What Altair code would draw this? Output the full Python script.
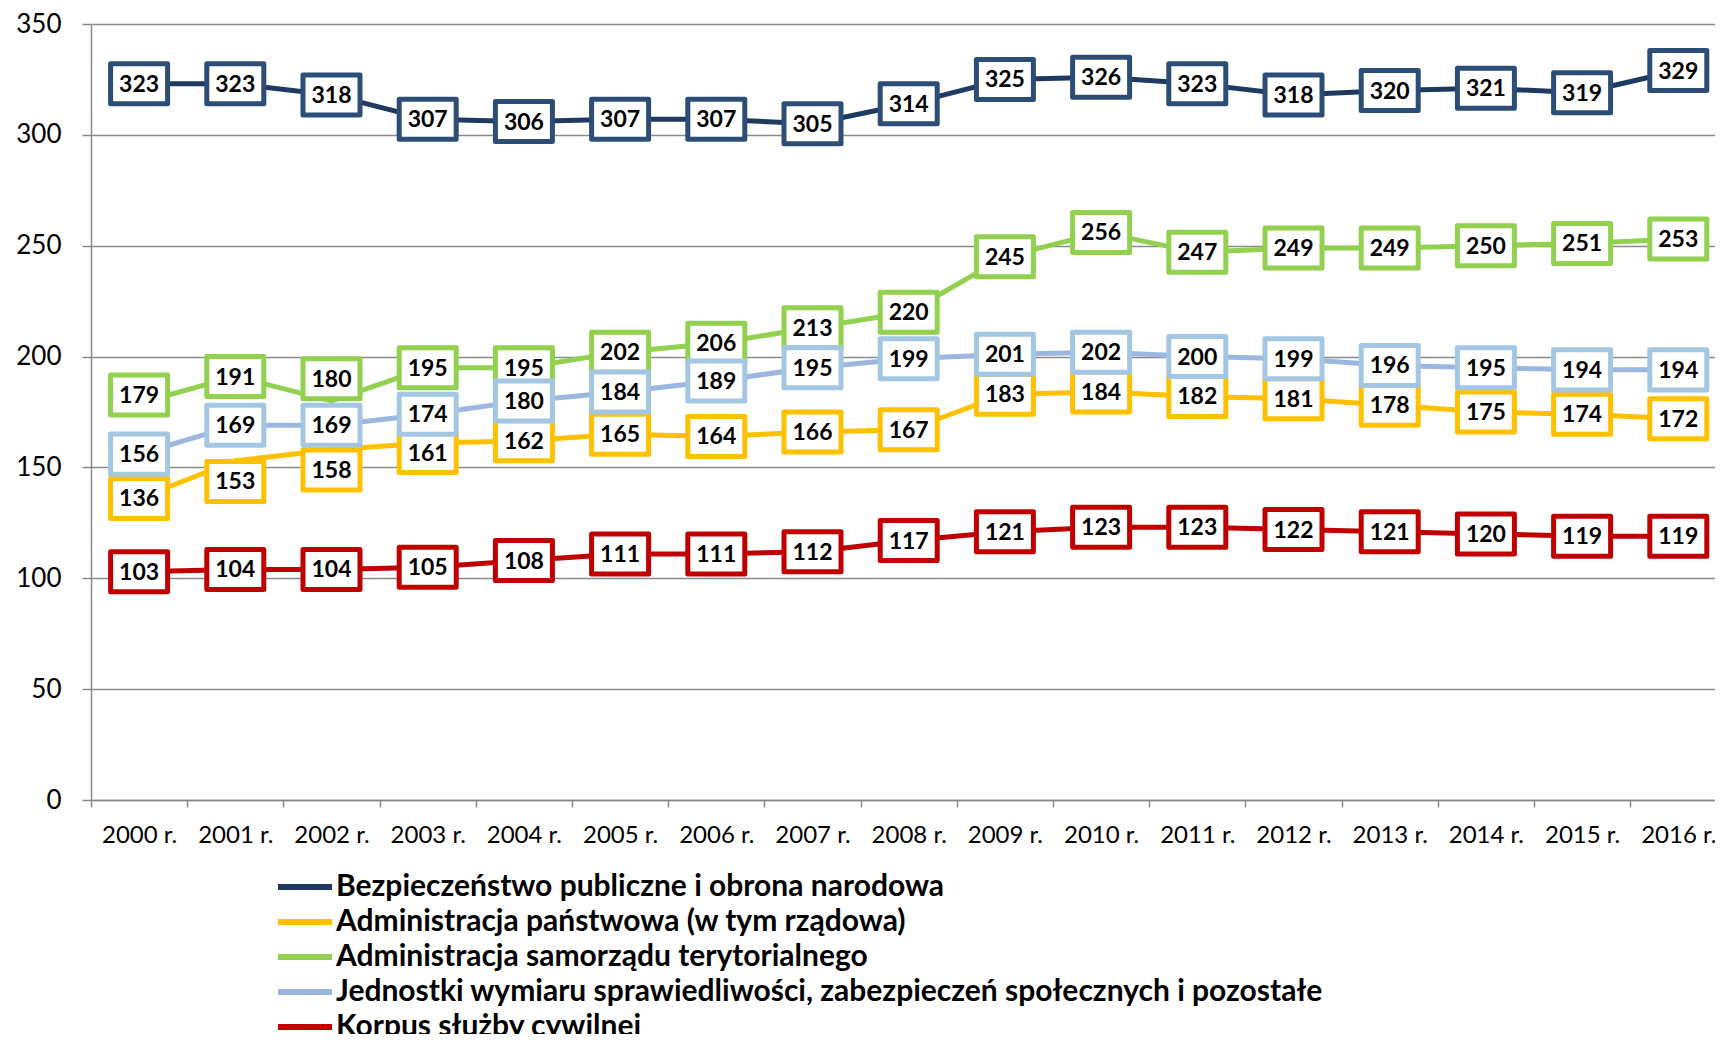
import altair as alt
import pandas as pd

# ---------------- data ----------------
years = list(range(2000, 2017))

series_names = [
    "Bezpieczeństwo publiczne i obrona narodowa",
    "Administracja państwowa (w tym rządowa)",
    "Administracja samorządu terytorialnego",
    "Jednostki wymiaru sprawiedliwości, zabezpieczeń społecznych i pozostałe",
    "Korpus służby cywilnej",
]

bezpieczenstwo = [323, 323, 318, 307, 306, 307, 307, 305, 314, 325, 326, 323, 318, 320, 321, 319, 329]
adm_panstwowa = [136, 153, 158, 161, 162, 165, 164, 166, 167, 183, 184, 182, 181, 178, 175, 174, 172]
adm_samorzadu = [179, 191, 180, 195, 195, 202, 206, 213, 220, 245, 256, 247, 249, 249, 250, 251, 253]
jednostki = [156, 169, 169, 174, 180, 184, 189, 195, 199, 201, 202, 200, 199, 196, 195, 194, 194]
korpus = [103, 104, 104, 105, 108, 111, 111, 112, 117, 121, 123, 123, 122, 121, 120, 119, 119]

series_values = [bezpieczenstwo, adm_panstwowa, adm_samorzadu, jednostki, korpus]

y_ticks = [0, 50, 100, 150, 200, 250, 300, 350]

# styles
line_colors = ["#1F3A60", "#FFC000", "#92D050", "#9BB7E0", "#C00000"]
box_colors = ["#2C4D75", "#FFC000", "#92D050", "#A3C7E2", "#C00000"]

# data-label nudges (in value units) where the original labels were moved to avoid overlap
label_shift = {
    (1, 2001): -9.3,
    (1, 2002): -9.2,
    (1, 2003): -4.3,
    (2, 2000): 3.7,
    (2, 2002): 10.0,
}

rows = []
for i, (name, vals) in enumerate(zip(series_names, series_values)):
    for yr, v in zip(years, vals):
        rows.append({
            "series": name,
            "idx": i,
            "year": yr,
            "value": v,
            "label_y": v + label_shift.get((i, yr), 0),
        })
df = pd.DataFrame(rows)

# ---------------- scales / axes ----------------
FONT = "Lato"
GRID = "#8A8A8A"
PLOT_W = 1624
STEP = 96.2

x_scale = alt.Scale(domain=[1999.5, 1999.5 + PLOT_W / STEP], nice=False, zero=False)
y_scale = alt.Scale(domain=[0, 350], nice=False, zero=True)

x_tick_vals = [y - 0.5 for y in years] + years

x_axis = alt.Axis(
    values=x_tick_vals,
    labelExpr="datum.value % 1 === 0 ? format(datum.value, 'd') + ' r.' : ''",
    tickOpacity={"condition": {"test": "datum.value % 1 === 0", "value": 0}, "value": 1},
    grid=False,
    title=None,
    tickSize=7,
    tickWidth=1.5,
    tickColor=GRID,
    domainColor=GRID,
    domainWidth=1.5,
    labelPadding=16,
    labelFont=FONT,
    labelFontSize=24,
    labelColor="black",
    labelFlush=False,
    labelOverlap=False,
    labelBound=False,
)

y_axis = alt.Axis(
    values=y_ticks,
    grid=True,
    gridColor=GRID,
    gridWidth=1.5,
    title=None,
    tickSize=9,
    tickWidth=1.5,
    tickColor=GRID,
    domainColor=GRID,
    domainWidth=1.5,
    labelPadding=21,
    labelFont=FONT,
    labelFontSize=26,
    labelColor="black",
)

X = alt.X("year:Q", scale=x_scale, axis=x_axis)
Y = alt.Y("value:Q", scale=y_scale, axis=y_axis)

legend = alt.Legend(
    title=None,
    orient="none",
    legendX=199,
    legendY=848,
    direction="vertical",
    symbolType="M-3,0H3",
    symbolStrokeWidth=6,
    symbolSize=324,
    symbolOpacity=1,
    labelFont=FONT,
    labelFontSize=30,
    labelFontWeight="bold",
    labelColor="black",
    labelLimit=2000,
    labelOffset=16,
    rowPadding=5,
    padding=0,
)

lines = alt.Chart(df).mark_line(strokeWidth=5, strokeCap="round", strokeJoin="round").encode(
    x=X,
    y=Y,
    color=alt.Color("series:N", scale=alt.Scale(domain=series_names, range=line_colors), legend=legend,
                    sort=series_names),
    detail="series:N",
)

BOX = "M-1,-0.702L1,-0.702L1,0.702L-1,0.702Z"

layers = [lines]
for i, name in enumerate(series_names):
    sub = df[df["idx"] == i]
    base = alt.Chart(sub)
    boxes = base.mark_point(
        shape=BOX, size=57 * 57, filled=True, fill="white", fillOpacity=1,
        stroke=box_colors[i], strokeWidth=5, strokeJoin="round", opacity=1,
    ).encode(
        x=alt.X("year:Q", scale=x_scale),
        y=alt.Y("label_y:Q", scale=y_scale),
    )
    texts = base.mark_text(
        font=FONT, fontSize=23, fontWeight="bold", color="black",
        align="center", baseline="middle", dy=1,
    ).encode(
        x=alt.X("year:Q", scale=x_scale),
        y=alt.Y("label_y:Q", scale=y_scale),
        text=alt.Text("value:Q", format="d"),
    )
    layers += [boxes, texts]

chart = alt.layer(*layers).properties(
    width=PLOT_W,
    height=776,
    padding={"left": 83, "top": 16, "right": 0, "bottom": 234},
    autosize=alt.AutoSizeParams(type="none"),
    background="white",
).configure_view(stroke=None)

chart.save("out.html", embed_options={"renderer": "svg", "actions": False})
